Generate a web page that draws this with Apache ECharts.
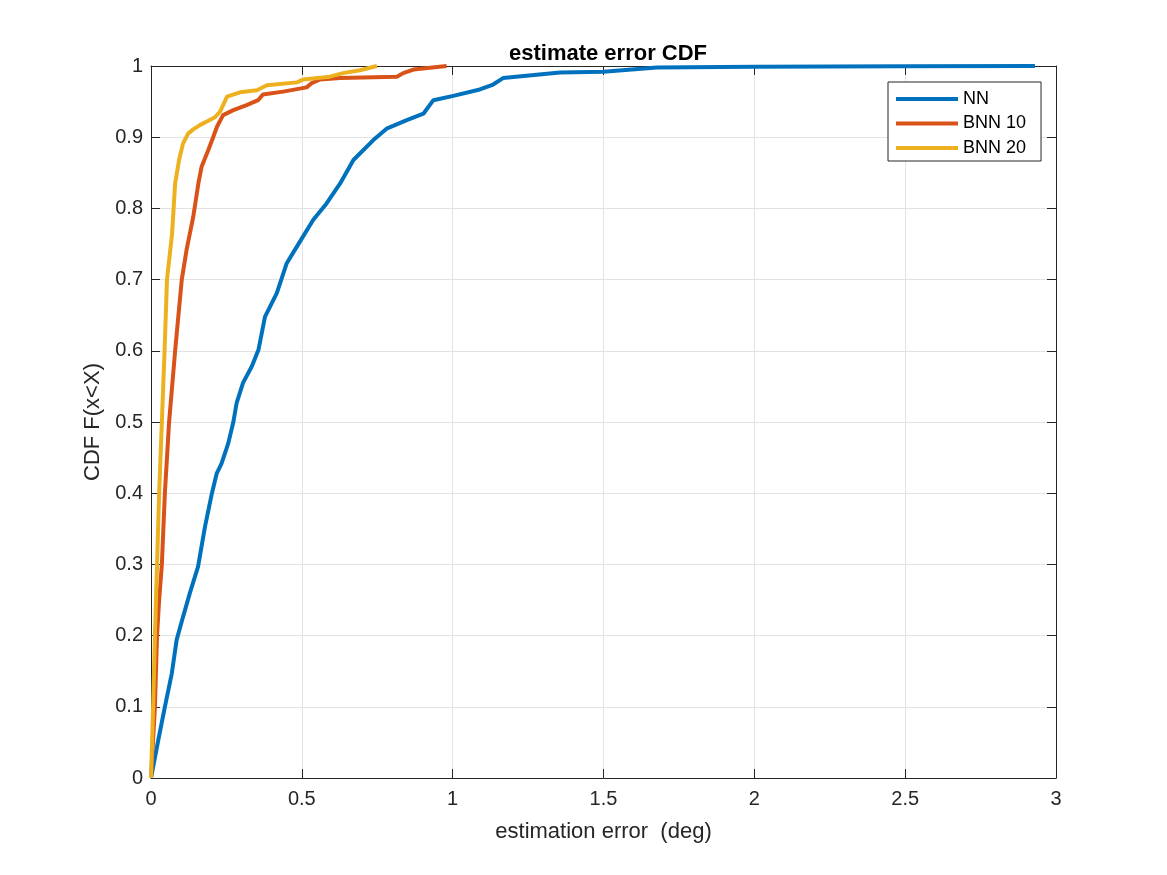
<!DOCTYPE html>
<html lang="en">
<head>
    <meta charset="UTF-8">
    <title>estimate error CDF</title>
    <style>
        body, html {
            margin: 0;
            height: 100%;
            width: 100%;
            background: #fff;
        }
    </style>
</head>
<body>
<div id="main" style="height: 875px; width: 1167px;"></div>
<script src="https://cdn.jsdelivr.net/npm/echarts@6/dist/echarts.min.js"></script>
<script>
    // values
    var nnErr = [0, 0.024, 0.046, 0.069, 0.085, 0.106, 0.129, 0.156, 0.179, 0.202, 0.218, 0.234, 0.256, 0.273, 0.284,
        0.305, 0.334, 0.356, 0.378, 0.417, 0.45, 0.483, 0.538, 0.582, 0.627, 0.671, 0.737, 0.781, 0.848, 0.903,
        0.936, 1.002, 1.09, 1.134, 1.167, 1.356, 1.5, 1.677, 2.0, 2.5, 2.93];
    var nnCdf = [0, 0.053, 0.1, 0.147, 0.194, 0.226, 0.26, 0.297, 0.353, 0.4, 0.428, 0.442, 0.47, 0.5, 0.527,
        0.555, 0.578, 0.601, 0.648, 0.681, 0.723, 0.746, 0.784, 0.807, 0.835, 0.868, 0.896, 0.912, 0.924, 0.933,
        0.952, 0.958, 0.967, 0.974, 0.983, 0.991, 0.992, 0.998, 0.999, 0.9995, 1];

    var bnn10Err = [0, 0.013, 0.02, 0.027, 0.036, 0.046, 0.06, 0.08, 0.102, 0.118, 0.14, 0.157, 0.168, 0.19, 0.206, 0.219,
        0.239, 0.273, 0.317, 0.355, 0.371, 0.438, 0.516, 0.533, 0.56, 0.627, 0.815, 0.836, 0.87, 0.98];
    var bnn10Cdf = [0, 0.1, 0.2, 0.25, 0.3, 0.4, 0.5, 0.6, 0.7, 0.742, 0.788, 0.835, 0.859, 0.882, 0.9, 0.915,
        0.931, 0.938, 0.945, 0.952, 0.96, 0.964, 0.97, 0.976, 0.981, 0.983, 0.985, 0.99, 0.995, 1];

    var bnn20Err = [0, 0.007, 0.013, 0.02, 0.027, 0.036, 0.045, 0.053, 0.07, 0.08, 0.093, 0.106, 0.123, 0.14, 0.162, 0.185,
        0.212, 0.229, 0.252, 0.295, 0.351, 0.384, 0.484, 0.504, 0.593, 0.636, 0.693, 0.749];
    var bnn20Cdf = [0, 0.1, 0.2, 0.3, 0.4, 0.5, 0.6, 0.7, 0.765, 0.835, 0.868, 0.891, 0.905, 0.911, 0.917, 0.922,
        0.928, 0.936, 0.957, 0.963, 0.966, 0.973, 0.977, 0.981, 0.985, 0.99, 0.994, 1];

    var seriesNames = ['NN', 'BNN 10', 'BNN 20'];
    var seriesColors = ['#0072BD', '#D95319', '#EDB120'];

    function pairs(xs, ys) {
        return xs.map(function (x, i) { return [x, ys[i]]; });
    }

    var font = 'Liberation Sans, Helvetica, Arial, sans-serif';
    var axisColor = '#262626';

    var myChart = echarts.init(document.getElementById('main'), null, {renderer: 'canvas'});

    function boxAxis(pos, min, max, interval, main) {
        return {
            type: 'value',
            position: pos,
            min: min,
            max: max,
            interval: interval,
            axisLine: {show: true, onZero: false, lineStyle: {color: axisColor, width: 1}},
            axisTick: {show: true, inside: true, length: 9, lineStyle: {color: axisColor}},
            axisLabel: {
                show: main,
                color: axisColor,
                fontFamily: font,
                fontSize: 20,
                margin: (pos === 'bottom') ? 11 : 8
            },
            splitLine: {show: main, lineStyle: {color: '#e3e3e3', width: 1}}
        };
    }

    var xBottom = boxAxis('bottom', 0, 3, 0.5, true);
    xBottom.name = 'estimation error  (deg)';
    xBottom.nameLocation = 'middle';
    xBottom.nameGap = 43;
    xBottom.nameTextStyle = {color: axisColor, fontFamily: font, fontSize: 22};

    var yLeft = boxAxis('left', 0, 1, 0.1, true);
    yLeft.name = 'CDF F(x<X)';
    yLeft.nameLocation = 'middle';
    yLeft.nameGap = 46;
    yLeft.nameTextStyle = {color: axisColor, fontFamily: font, fontSize: 22};

    var errs = [nnErr, bnn10Err, bnn20Err];
    var cdfs = [nnCdf, bnn10Cdf, bnn20Cdf];

    myChart.setOption({
        backgroundColor: '#fff',
        animation: false,
        title: {
            text: 'estimate error CDF',
            left: 603,
            top: 38,
            textAlign: 'center',
            textStyle: {fontFamily: font, fontSize: 22, fontWeight: 'bold', color: '#000'}
        },
        legend: {
            orient: 'vertical',
            left: 888,
            top: 82,
            padding: [8, 15, 4, 8],
            itemGap: 6.5,
            itemWidth: 62,
            itemHeight: 4,
            icon: 'rect',
            backgroundColor: '#fff',
            borderColor: axisColor,
            borderWidth: 1,
            borderRadius: 0,
            textStyle: {fontFamily: font, fontSize: 18, lineHeight: 18, color: '#000'},
            data: seriesNames
        },
        grid: {left: 151, right: 111, top: 66, bottom: 97, outerBoundsMode: 'none'},
        xAxis: [xBottom, boxAxis('top', 0, 3, 0.5, false)],
        yAxis: [yLeft, boxAxis('right', 0, 1, 0.1, false)],
        series: seriesNames.map(function (name, i) {
            return {
                name: name,
                type: 'line',
                symbol: 'none',
                showSymbol: false,
                xAxisIndex: 0,
                yAxisIndex: 0,
                color: seriesColors[i],
                lineStyle: {width: 4, color: seriesColors[i]},
                data: pairs(errs[i], cdfs[i])
            };
        })
    });
</script>
</body>
</html>
